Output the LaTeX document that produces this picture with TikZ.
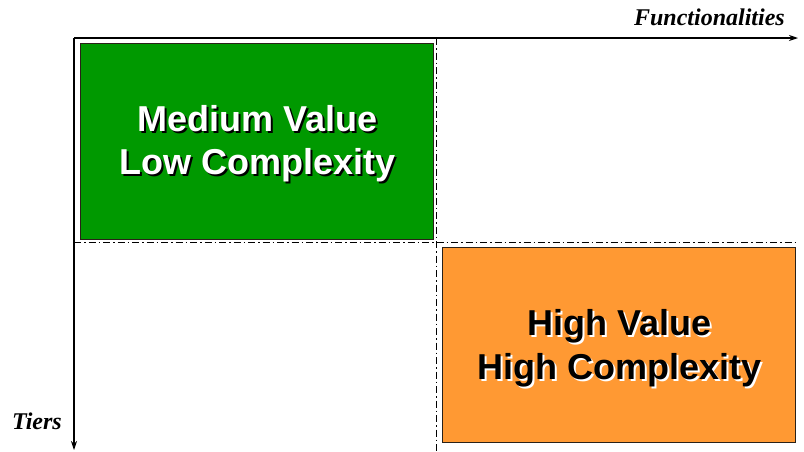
\documentclass[tikz,border=0pt]{standalone}
\usepackage{fontspec}
\setmainfont{Liberation Serif}
\setsansfont{Liberation Sans}
\usepackage{xcolor}
\usetikzlibrary{arrows.meta,positioning}
\definecolor{lowGreen}{HTML}{009900}
\definecolor{highOrange}{HTML}{FF9933}
\definecolor{boxEdge}{HTML}{2A2118}
\newcommand{\castshadow}[2]{\leavevmode\rlap{\kern2pt\raisebox{-2pt}{\color{#1}#2}}#2}

\begin{document}
\begin{tikzpicture}[
    x=1pt,y=-1pt,
    >={Stealth[length=9pt,width=6pt]},
    axis/.style={black,line width=1.1pt},
    split/.style={black,line width=0.9pt,dash pattern=on 7pt off 3pt on 1.5pt off 3pt},
    quadrant/.style={draw=boxEdge,line width=1.3pt,inner sep=0pt,anchor=north west},
    axislabel/.style={font=\rmfamily\bfseries\itshape\fontsize{24}{28}\selectfont,inner sep=0pt},
    boxtext/.style={font=\sffamily\bfseries\fontsize{36}{43.5}\selectfont,align=center,inner sep=0pt}
  ]
  \useasboundingbox (0,0) rectangle (804,451);
  %% Axes
  \coordinate (origin) at (74,38);
  \coordinate (funcEnd) at (798,38);
  \coordinate (tierEnd) at (74,450);
  \draw[axis,->] (origin) -- (funcEnd);
  \draw[axis,->] (origin) -- (tierEnd);
  \node[axislabel,anchor=base east] (funcLabel) at (785,25) {Functionalities};
  \node[axislabel,anchor=base east] (tierLabel) at (62,429) {Tiers};
  %% Quadrant splits
  \coordinate (splitW) at (74,242);
  \coordinate (splitE) at (798,242);
  \coordinate (splitN) at (436,38);
  \coordinate (splitS) at (436,451);
  \draw[split] (splitW) -- (splitE);
  \draw[split] (splitN) -- (splitS);
  %% Quadrant boxes
  \node[quadrant,fill=lowGreen,minimum width=353pt,minimum height=196pt] (lowBox) at (80,43) {};
  \node[quadrant,fill=highOrange,minimum width=353pt,minimum height=195pt] (highBox) at (442,247) {};
  %% Labels with shadows
  \node[boxtext,text=white] (lowText) at ([shift={(0pt,-3pt)}]lowBox.center)
    {\castshadow{black}{Medium Value}\\\castshadow{black}{Low Complexity}};
  \node[boxtext,text=black] (highText) at ([shift={(0pt,-4pt)}]highBox.center)
    {\castshadow{white}{High Value}\\\castshadow{white}{High Complexity}};
\end{tikzpicture}
\end{document}
